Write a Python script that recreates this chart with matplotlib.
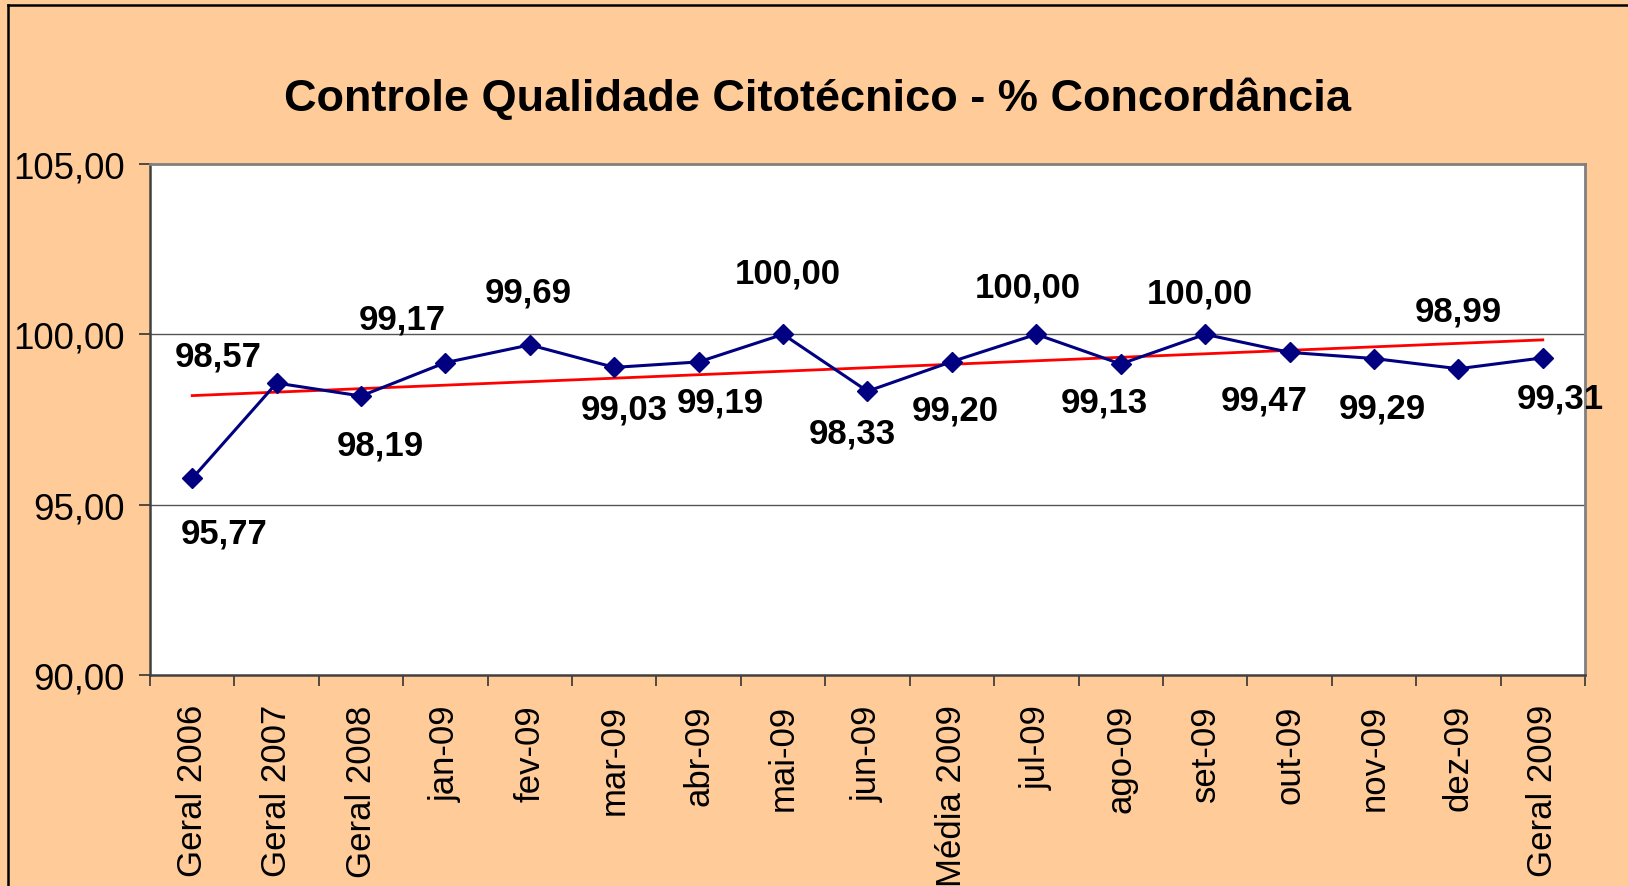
import numpy as np
import matplotlib
matplotlib.use("Agg")
import matplotlib.pyplot as plt
from matplotlib.lines import Line2D

# categories and % agreement values
categories = ["Geral 2006", "Geral 2007", "Geral 2008", "jan-09", "fev-09", "mar-09",
              "abr-09", "mai-09", "jun-09", "Média 2009", "jul-09", "ago-09", "set-09",
              "out-09", "nov-09", "dez-09", "Geral 2009"]
values = [95.77, 98.57, 98.19, 99.17, 99.69, 99.03, 99.19, 100.00, 98.33, 99.20,
          100.00, 99.13, 100.00, 99.47, 99.29, 98.99, 99.31]
y_ticks = [90, 95, 100, 105]

# label offsets in pixels (dx right, dy down), like Excel's placement
label_dx = [32, -58, 19, -43, -2, 10, 22, 5, -15, 3, -9, -16, -5, -25, 8, 0, 18]
label_dy = [55, -27, 49, -44, -53, 42, 40, -61, 42, 48, -47, 38, -41, 48, 49, -58, 40]

W, H = 1628, 887
plt.rcParams["font.family"] = ["Liberation Sans", "DejaVu Sans"]
fig = plt.figure(figsize=(W / 100, H / 100), dpi=100, facecolor="#FFCC99")
ax = fig.add_axes([150 / W, 1 - 676 / H, (1585 - 150) / W, (676 - 165) / H])
ax.set_facecolor("white")

x = np.arange(len(values))
ax.plot(x, values, color="#000080", lw=2.2, marker="D", ms=10, zorder=3)

# linear trendline
k, b = np.polyfit(x, values, 1)
ax.plot(x, k * x + b, color="#FF0000", lw=2.0, zorder=2)

def fmt(v):
    return f"{v:.2f}".replace(".", ",")

for i, v in enumerate(values):
    ax.annotate(fmt(v), xy=(i, v), xytext=(label_dx[i], -label_dy[i]),
                textcoords="offset pixels", ha="center", va="center",
                fontsize=25, fontweight="bold", color="black", zorder=4)

ax.set_xlim(-0.5, len(values) - 0.5)
ax.set_ylim(90, 105)
ax.set_yticks(y_ticks)
ax.set_yticklabels([fmt(t) for t in y_ticks], fontsize=26.5)
for t in [95, 100]:
    ax.axhline(t, color="#555555", lw=1.0, zorder=1)

# category boundaries as major ticks, labels at centres
ax.set_xticks(np.arange(-0.5, len(values)), minor=False)
ax.set_xticklabels([])
ax.set_xticks(x, minor=True)
ax.set_xticklabels(categories, minor=True, rotation=90, fontsize=25, va="top")
ax.tick_params(axis="x", which="minor", length=0, pad=21)
ax.tick_params(axis="x", which="major", length=8, width=1.2, color="#333333")
ax.tick_params(axis="y", length=8, width=1.2, color="#333333", pad=10)

for side in ["top", "right"]:
    ax.spines[side].set_color("#808080")
    ax.spines[side].set_linewidth(2)
for side in ["left", "bottom"]:
    ax.spines[side].set_color("#404040")
    ax.spines[side].set_linewidth(1.8)

fig.text(818 / W, 1 - 99 / H, "Controle Qualidade Citotécnico - % Concordância",
         ha="center", va="center", fontsize=32.5, fontweight="bold")

# outer chart border (left and top)
fig.add_artist(Line2D([8 / W, 8 / W], [0, 1 - 6 / H], color="black", lw=1.8))
fig.add_artist(Line2D([8 / W, 1], [1 - 6 / H, 1 - 6 / H], color="black", lw=1.8))

fig.savefig("out.png", dpi=100, facecolor=fig.get_facecolor())
